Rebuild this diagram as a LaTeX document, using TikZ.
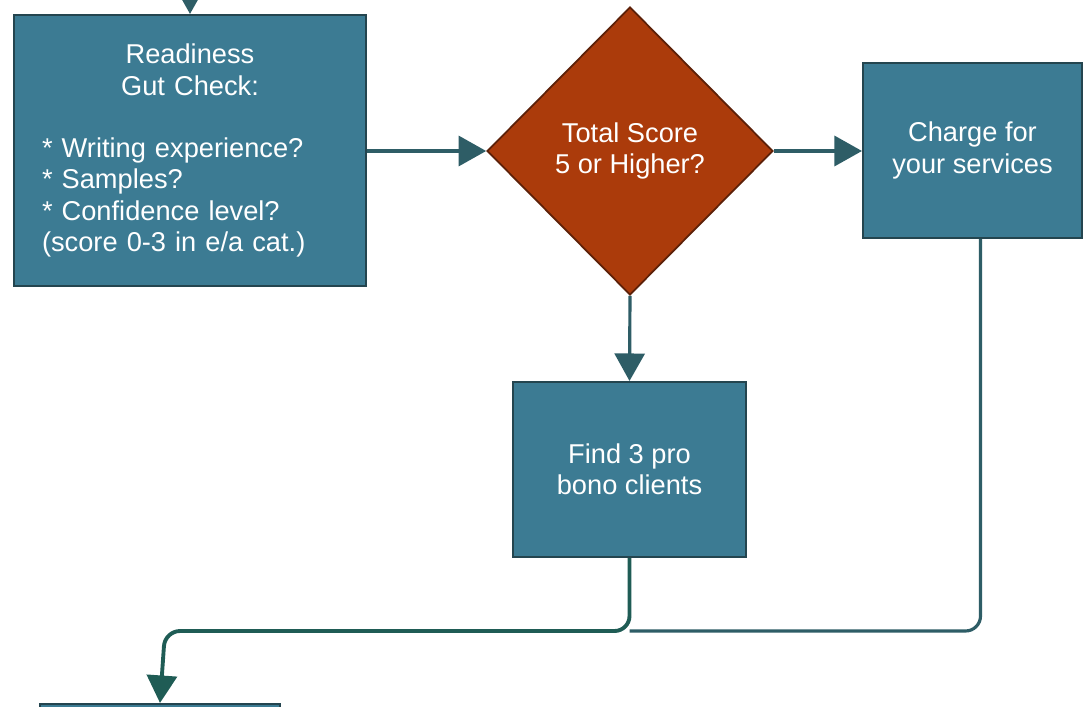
\documentclass[tikz,border=0pt]{standalone}
\usepackage{fontspec}
\setmainfont{Liberation Sans}
\usetikzlibrary{arrows.meta,positioning,shapes.geometric}
\definecolor{boxteal}{HTML}{3C7B93}
\definecolor{boxedge}{HTML}{24454F}
\definecolor{rust}{HTML}{AB3B0B}
\definecolor{rustedge}{HTML}{5C2008}
\definecolor{flowline}{HTML}{2E5D66}
\definecolor{flowgreen}{HTML}{1F5C55}

\begin{document}
\begin{tikzpicture}[
  x={(0.02cm,0)}, y={(0,-0.02cm)},
  box/.style={rectangle, draw=boxedge, line width=1.2pt, fill=boxteal,
    text=white, align=center, font=\fontsize{15.5}{17.8}\selectfont},
  decision/.style={diamond, draw=rustedge, line width=1pt, fill=rust,
    text=white, align=center, inner sep=0pt, aspect=1,
    font=\fontsize{15.5}{17.8}\selectfont},
  flow/.style={line width=1.8pt, draw=flowline,
    -{Triangle[length=0.55cm, width=0.6cm]}},
  >=Stealth
]
  \clip (0,0) rectangle (1084,706);
  \fill[white] (0,0) rectangle (1084,706);

  % top row: gut check, decision, charge
  \node[box, minimum width=7.04cm, minimum height=5.42cm, text width=5.92cm,
    align=left] (gut) at (190,150.5)
    {\makebox[\linewidth]{Readiness}\\
     \makebox[\linewidth]{Gut Check:}\\[17.8pt]
     {}* Writing experience?\\
     {}* Samples?\\
     {}* Confidence level?\\
     (score 0-3 in e/a cat.)};
  \node[decision, minimum width=5.72cm, minimum height=5.76cm] (score) at (630,151)
    {Total Score\\5 or Higher?};
  \node[box, minimum width=4.38cm, minimum height=3.5cm] (charge) at (972.5,150.5)
    {Charge for\\your services};

  % second row and the box below the picture
  \node[box, minimum width=4.66cm, minimum height=3.5cm] (probono) at (629.5,469.5)
    {Find 3 pro\\bono clients};
  \node[box, minimum width=4.8cm, minimum height=2.4cm] (next) at (160,764) {};

  \coordinate (from) at (190,-20);
  \coordinate (merge) at (165,631);

  % connectors
  \draw[flow] (from) -- (gut.north);
  \draw[flow] (gut.east |- score.west) -- (score.west);
  \draw[flow] (score.east) -- (charge.west |- score.east);
  \draw[flow] (score.south) -- (probono.north);
  \draw[flow, draw=flowgreen, line width=2.2pt, rounded corners=0.3cm]
    (probono.south) |- (merge) -- (next.north);
  \draw[line width=1.8pt, draw=flowline, rounded corners=0.3cm]
    ([xshift=0.16cm]charge.south) |- (probono.south |- merge);
\end{tikzpicture}
\end{document}
